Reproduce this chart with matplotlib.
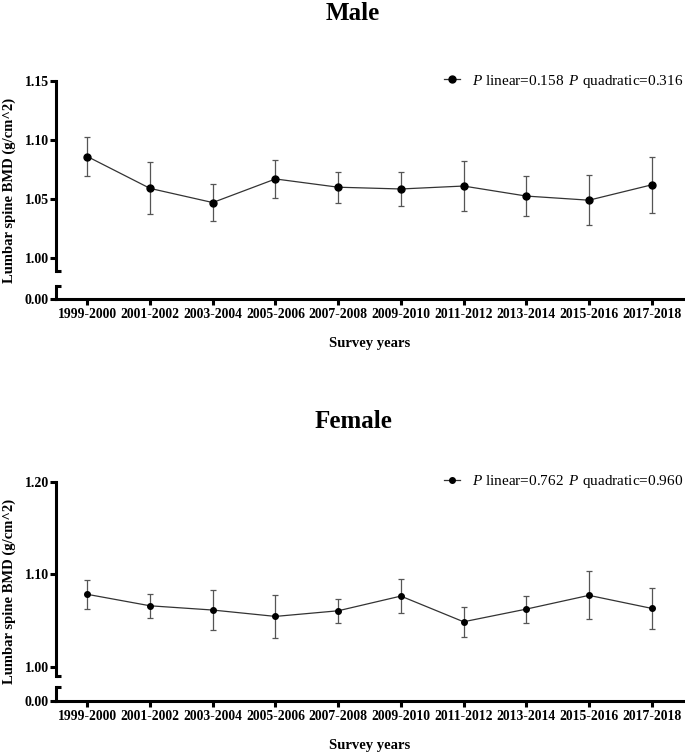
import matplotlib
matplotlib.use('Agg')
import matplotlib.pyplot as plt

plt.rcParams['font.family'] = ['Liberation Serif', 'DejaVu Serif']
plt.rcParams['mathtext.fontset'] = 'custom'
plt.rcParams['mathtext.rm'] = 'Liberation Serif'
plt.rcParams['mathtext.it'] = 'Liberation Serif:italic'
plt.rcParams['mathtext.bf'] = 'Liberation Serif:bold'

survey_years = ['1999-2000', '2001-2002', '2003-2004', '2005-2006', '2007-2008',
                '2009-2010', '2011-2012', '2013-2014', '2015-2016', '2017-2018']
male_mean = [1.086, 1.059, 1.047, 1.067, 1.060, 1.0585, 1.061, 1.0525, 1.049, 1.062]
male_err = [0.0165, 0.022, 0.016, 0.016, 0.013, 0.014, 0.021, 0.017, 0.021, 0.0235]
female_mean = [1.0784, 1.066, 1.0614, 1.0545, 1.0606, 1.0765, 1.0487, 1.0624, 1.0773, 1.0632]
female_err = [0.016, 0.0133, 0.0215, 0.023, 0.013, 0.018, 0.0165, 0.0146, 0.026, 0.0223]
male_p = (0.158, 0.316)
female_p = (0.762, 0.960)
male_yticks = [1.00, 1.05, 1.10, 1.15]
female_yticks = [1.00, 1.10, 1.20]

W, H = 685, 755
fig = plt.figure(figsize=(W / 100, H / 100), dpi=100)

SPINE_LW = 2.2
TICK_LEN = 4.2


def rect(x0, y_top, x1, y_bot):
    return [x0 / W, 1 - y_bot / H, (x1 - x0) / W, (y_bot - y_top) / H]


def panel(title, means, errs, pvals, yticks, ylo, y_top_px, y_brk_px, y_low_top_px, y_axis_px,
          title_y, xlabel_y, msize, cap):
    x = list(range(len(survey_years)))
    x0, x1 = 56, 683
    up = fig.add_axes(rect(x0, y_top_px, x1, y_brk_px))
    lo = fig.add_axes(rect(x0, y_low_top_px, x1, y_axis_px))
    for ax in (up, lo):
        ax.set_xlim(-0.5, len(survey_years) - 0.5)
        ax.spines['top'].set_visible(False)
        ax.spines['right'].set_visible(False)
        ax.spines['left'].set_linewidth(SPINE_LW)
        ax.spines['bottom'].set_linewidth(SPINE_LW)
        ax.patch.set_alpha(0)
        ax.tick_params(axis='y', which='major', length=TICK_LEN, width=SPINE_LW,
                       labelsize=10, pad=1)
        ax.tick_params(axis='y', which='minor', direction='in', length=3.5, width=SPINE_LW)
    up.spines['bottom'].set_visible(False)
    up.tick_params(axis='x', which='both', bottom=False, labelbottom=False)
    up.set_ylim(ylo, yticks[-1])
    up.set_yticks(yticks)
    up.set_yticklabels([f'{v:.2f}' for v in yticks], fontweight='bold')
    up.set_yticks([ylo], minor=True)

    lo.set_ylim(0, 1)
    lo.set_yticks([0])
    lo.set_yticklabels(['0.00'], fontweight='bold')
    lo.set_yticks([1], minor=True)
    lo.set_xticks(x)
    lo.set_xticklabels(survey_years, fontweight='bold', fontsize=9.8)
    lo.tick_params(axis='x', length=TICK_LEN, width=SPINE_LW, pad=2)

    up.errorbar(x, means, yerr=errs, fmt='none', ecolor='#555555', elinewidth=0.9,
                capsize=cap, capthick=0.9, zorder=2)
    label = (rf'$\it{{P}}$ linear={pvals[0]:.3f}$\;\;$'
             rf'$\it{{P}}$ quadratic={pvals[1]:.3f}')
    up.plot(x, means, color='#333333', lw=0.9, marker='o', markersize=msize,
            markerfacecolor='black', markeredgecolor='black', zorder=3, label=label)
    up.legend(loc='center right', bbox_to_anchor=(683 / W, 1 - y_top_px / H),
              bbox_transform=fig.transFigure, frameon=False, fontsize=11,
              handlelength=1.1, handletextpad=0.75, borderpad=0, borderaxespad=0)

    fig.text(353 / W, 1 - title_y / H, title, ha='center', va='center',
             fontsize=18, fontweight='bold')
    fig.text(370 / W, 1 - xlabel_y / H, 'Survey years', ha='center', va='center',
             fontsize=10.5, fontweight='bold')
    fig.text(9 / W, 1 - ((y_top_px + y_axis_px) / 2) / H, 'Lumbar spine BMD (g/cm^2)',
             ha='center', va='center', rotation=90, fontsize=10.5, fontweight='bold')


panel('Male', male_mean, male_err, male_p, male_yticks, 0.989,
      81, 271, 286, 299, 14, 343, 5.0, 2.4)
panel('Female', female_mean, female_err, female_p, female_yticks, 0.990,
      482, 676, 687, 701, 422, 745, 4.0, 2.4)

fig.savefig('out.png', dpi=100)
